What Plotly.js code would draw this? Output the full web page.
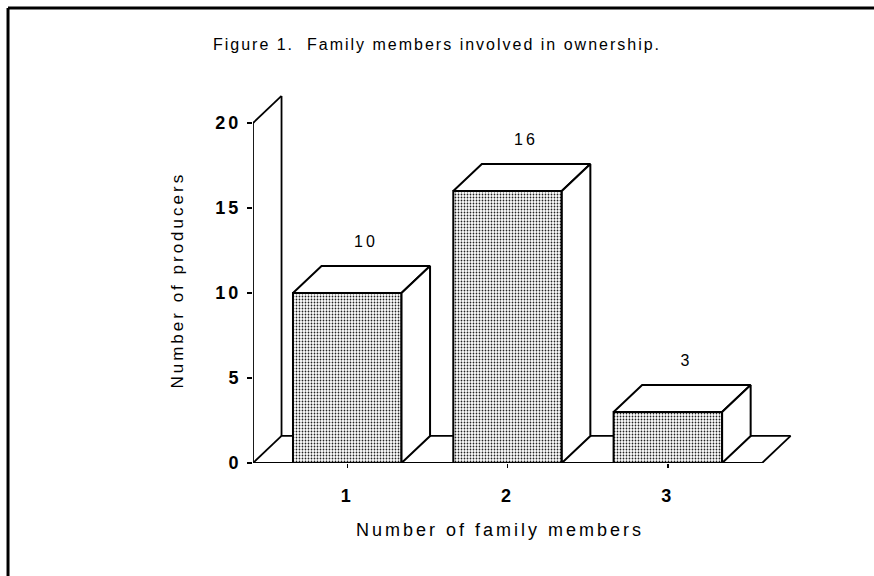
<!DOCTYPE html>
<html>
<head>
<meta charset="utf-8">
<script src="https://cdn.plot.ly/plotly-3.0.1.min.js"></script>
<style>
  html, body { margin: 0; padding: 0; background: #fff; }
  #chart { width: 874px; height: 576px; }
  .main-svg text { letter-spacing: 3px; }
  .main-svg .gtitle { letter-spacing: 2px; }
</style>
</head>
<body>
<div id="chart"></div>
<script>
// ---- data ----
const categories = [1, 2, 3];
const categoryLabels = ['1', '2', '3'];
const values = [10, 16, 3];
const valueLabels = ['10', '16', '3'];
const yTickVals = [0, 5, 10, 15, 20];
const yTickText = ['0', '5', '10', '15', '20'];

// ---- style / geometry constants ----
const W = 0.677;      // bar width (category units)
const DX = 0.178;     // depth offset in x units
const DY = 1.59;      // depth offset in y units
const XL = 0.412, XR = 3.588;  // floor extent
const WALL_TOP = 20;
const FONT = 'Liberation Sans, Arial, Helvetica, sans-serif';

const traces = [];
// front faces
traces.push({
  type: 'bar', x: categories, y: values, width: W,
  marker: {
    color: 'white',
    line: {color: 'black', width: 2},
    pattern: {shape: '.', fgcolor: '#222', bgcolor: 'white', size: 3, solidity: 0.28, fillmode: 'replace'}
  },
  hoverinfo: 'skip', showlegend: false
});
// top and side faces
categories.forEach((c, i) => {
  const v = values[i];
  const l = c - W / 2, r = c + W / 2;
  traces.push({
    type: 'scatter', mode: 'lines', fill: 'toself', fillcolor: 'white',
    x: [l, l + DX, r + DX, r, l], y: [v, v + DY, v + DY, v, v],
    line: {color: 'black', width: 2}, hoverinfo: 'skip', showlegend: false
  });
  traces.push({
    type: 'scatter', mode: 'lines', fill: 'toself', fillcolor: 'white',
    x: [r, r + DX, r + DX, r, r], y: [0, DY, v + DY, v, 0],
    line: {color: 'black', width: 2}, hoverinfo: 'skip', showlegend: false
  });
});

// walls and floor (decoration, below traces)
const ln = (x0, y0, x1, y1, w) => ({type: 'line', xref: 'x', yref: 'y', x0, y0, x1, y1, layer: 'below',
  line: {color: 'black', width: w || 1.8}});
const shapes = [
  ln(XL, 0, XL, WALL_TOP),
  ln(XL, WALL_TOP, XL + DX, WALL_TOP + DY),
  ln(XL + DX, WALL_TOP + DY, XL + DX, DY),
  ln(XL, 0, XL + DX, DY),
  ln(XL, 0, XR, 0, 2.2),
  ln(XL + DX, DY, XR + DX, DY),
  ln(XR, 0, XR + DX, DY),
  // page border (top and left)
  {type: 'line', xref: 'paper', yref: 'paper', x0: -0.4545, x1: 1.16, y0: 1.233, y1: 1.233, line: {color: 'black', width: 3}},
  {type: 'line', xref: 'paper', yref: 'paper', x0: -0.4545, x1: -0.4545, y0: 1.233, y1: -0.31, line: {color: 'black', width: 3}}
];

const annotations = categories.map((c, i) => ({
  x: c + DX / 2, y: values[i] + DY, xref: 'x', yref: 'y',
  text: valueLabels[i], showarrow: false, yshift: 24, xshift: 4, yanchor: 'middle',
  font: {family: FONT, size: 16, color: 'black'}
}));
annotations.push({
  xref: 'paper', yref: 'paper', x: -0.139, y: 0.496, textangle: -90,
  text: 'Number of producers', showarrow: false, xanchor: 'center', yanchor: 'middle',
  font: {family: FONT, size: 17, color: 'black'}
});
annotations.push({
  xref: 'paper', yref: 'paper', x: 0.458, y: -0.1816,
  text: 'Number of family members', showarrow: false, xanchor: 'center', yanchor: 'middle',
  font: {family: FONT, size: 18, color: 'black'}
});

const layout = {
  width: 874, height: 576,
  margin: {l: 253, r: 82, t: 94, b: 113, pad: 0},
  paper_bgcolor: 'white', plot_bgcolor: 'white',
  showlegend: false,
  title: {
    text: 'Figure 1.&nbsp; Family members involved in ownership.',
    x: 437 / 874, xref: 'container', xanchor: 'center',
    y: 1 - 44 / 576, yref: 'container', yanchor: 'middle',
    font: {family: FONT, size: 16, color: 'black'}
  },
  xaxis: {
    range: [XL, XL + 539 / 160.3], showgrid: false, zeroline: false, showline: false,
    tickvals: categories, ticktext: categoryLabels, ticks: 'outside', ticklen: 4, tickwidth: 1.5,
    tickcolor: 'black', ticklabelstandoff: 12,
    tickfont: {family: FONT, size: 18, color: 'black', weight: 'bold'}, fixedrange: true
  },
  yaxis: {
    range: [0, 369 / 17.0], showgrid: false, zeroline: false, showline: false,
    tickvals: yTickVals, ticktext: yTickText, ticks: 'outside', ticklen: 5, tickwidth: 1.8,
    tickcolor: 'black', ticklabelstandoff: 2,
    tickfont: {family: FONT, size: 18, color: 'black', weight: 'bold'}, fixedrange: true
  },
  shapes, annotations
};

Plotly.newPlot('chart', traces, layout, {displayModeBar: false, staticPlot: true});
</script>
</body>
</html>
